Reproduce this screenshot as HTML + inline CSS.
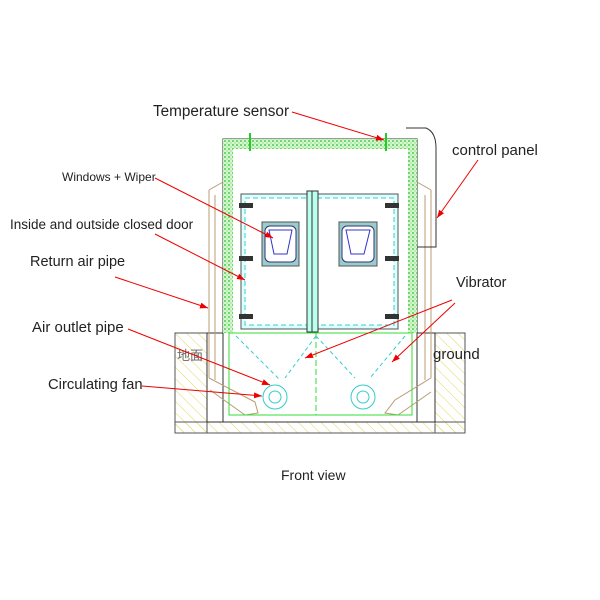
<!DOCTYPE html>
<html><head><style>body{margin:0;background:#fff}svg{display:block}text{font-family:"Liberation Sans","Noto Sans CJK SC",sans-serif;fill:#222}</style></head>
<body>
<svg width="600" height="600" viewBox="0 0 600 600" xmlns="http://www.w3.org/2000/svg">
<defs>
<pattern id="h" width="8" height="8" patternUnits="userSpaceOnUse" patternTransform="rotate(-45)"><line x1="0" y1="0" x2="0" y2="8" stroke="#e0d860" stroke-width="1"/></pattern>
<pattern id="g" width="4" height="4" patternUnits="userSpaceOnUse"><rect width="4" height="4" fill="#d6f6d0"/><circle cx="1" cy="1" r="0.9" fill="#2cbf2c"/><circle cx="3" cy="3" r="0.6" fill="#6ad86a"/></pattern>
<marker id="a" markerWidth="8" markerHeight="6" refX="8" refY="3" orient="auto"><path d="M0,0 L8,3 L0,6z" fill="#e00"/></marker>
</defs>
<rect x="175" y="333" width="32" height="100" fill="url(#h)" stroke="#555"/>
<rect x="435" y="333" width="30" height="100" fill="url(#h)" stroke="#555"/>
<rect x="175" y="422" width="290" height="11" fill="url(#h)" stroke="#555"/>
<rect x="207" y="333" width="228" height="89" fill="#fff" stroke="#333"/>
<rect x="223" y="139" width="194" height="283" fill="#fff" stroke="#333"/>
<rect x="223" y="139" width="194" height="10" fill="url(#g)"/>
<rect x="223" y="139" width="10" height="194" fill="url(#g)"/>
<rect x="408" y="139" width="9" height="194" fill="url(#g)"/>
<line x1="250" y1="133" x2="250" y2="151" stroke="#2c2" stroke-width="2"/>
<line x1="386" y1="133" x2="386" y2="151" stroke="#2c2" stroke-width="2"/>
<path d="M209,190 L209,378 M215,195 L215,380 M209,190 L223,182" fill="none" stroke="#b89c70"/>
<path d="M431,190 L431,378 M425,195 L425,380 M431,190 L417,182" fill="none" stroke="#b89c70"/>
<path d="M209,378 L255,402 L258,413 L245,415 L210,390" fill="none" stroke="#b89c70"/>
<path d="M431,378 L395,400 L385,413 L398,415 L431,392" fill="none" stroke="#b89c70"/>
<path d="M406,128 L426,128 Q436,132 436,148 L436,247 L417,247" fill="none" stroke="#333"/>
<rect x="241" y="194" width="157" height="135" fill="#dff" stroke="#555"/>
<rect x="245" y="198" width="149" height="127" fill="#fff" stroke="#3cc" stroke-dasharray="5,3"/>
<rect x="307" y="191" width="11" height="141" fill="#bfe" stroke="#333"/>
<line x1="312" y1="191" x2="312" y2="332" stroke="#333"/>
<rect x="262" y="222" width="37" height="44" fill="#9cc" stroke="#555"/>
<rect x="265" y="226" width="31" height="36" rx="5" fill="#fff" stroke="#337"/>
<path d="M269,230 L292,230 L287,254 L274,254Z" fill="none" stroke="#33c"/>
<rect x="339" y="222" width="38" height="44" fill="#9cc" stroke="#555"/>
<rect x="342" y="226" width="32" height="36" rx="5" fill="#fff" stroke="#337"/>
<path d="M346,230 L370,230 L364,254 L351,254Z" fill="none" stroke="#33c"/>
<g fill="#333"><rect x="239" y="203" width="14" height="5"/><rect x="239" y="256" width="14" height="5"/><rect x="239" y="314" width="14" height="5"/><rect x="385" y="203" width="14" height="5"/><rect x="385" y="256" width="14" height="5"/><rect x="385" y="314" width="14" height="5"/></g>
<rect x="229" y="333" width="183" height="82" fill="none" stroke="#3d3"/>
<line x1="316" y1="333" x2="316" y2="415" stroke="#3d3" stroke-dasharray="6,3"/>
<path d="M236,336 L280,380 M316,336 L285,378 M316,336 L355,378 M405,336 L370,378" stroke="#3cc" stroke-dasharray="4,3" fill="none"/>
<circle cx="275" cy="397" r="12" fill="none" stroke="#3cc"/><circle cx="275" cy="397" r="6" fill="none" stroke="#3cc"/>
<circle cx="363" cy="397" r="12" fill="none" stroke="#3cc"/><circle cx="363" cy="397" r="6" fill="none" stroke="#3cc"/>
<text x="153" y="116" font-size="15.3">Temperature sensor</text>
<text x="452" y="155" font-size="15">control panel</text>
<text x="62" y="181" font-size="12">Windows + Wiper</text>
<text x="10" y="229" font-size="13.5">Inside and outside closed door</text>
<text x="30" y="266" font-size="14.5">Return air pipe</text>
<text x="456" y="287" font-size="14.5">Vibrator</text>
<text x="32" y="332" font-size="15">Air outlet pipe</text>
<text x="433" y="359" font-size="15">ground</text>
<text x="177" y="360" font-size="13" style="fill:#666">地面</text>
<text x="48" y="389" font-size="14.8">Circulating fan</text>
<text x="281" y="480" font-size="14">Front view</text>
<g stroke="#e00" stroke-width="1" fill="none" marker-end="url(#a)">
<line x1="292" y1="112" x2="384" y2="140"/>
<line x1="478" y1="160" x2="437" y2="218"/>
<line x1="155" y1="178" x2="273" y2="238"/>
<line x1="155" y1="234" x2="245" y2="280"/>
<line x1="115" y1="277" x2="208" y2="308"/>
<line x1="128" y1="329" x2="270" y2="385"/>
<line x1="142" y1="386" x2="262" y2="396"/>
<line x1="452" y1="300" x2="305" y2="358"/>
<line x1="455" y1="303" x2="392" y2="362"/>
</g>
</svg>
</body></html>
